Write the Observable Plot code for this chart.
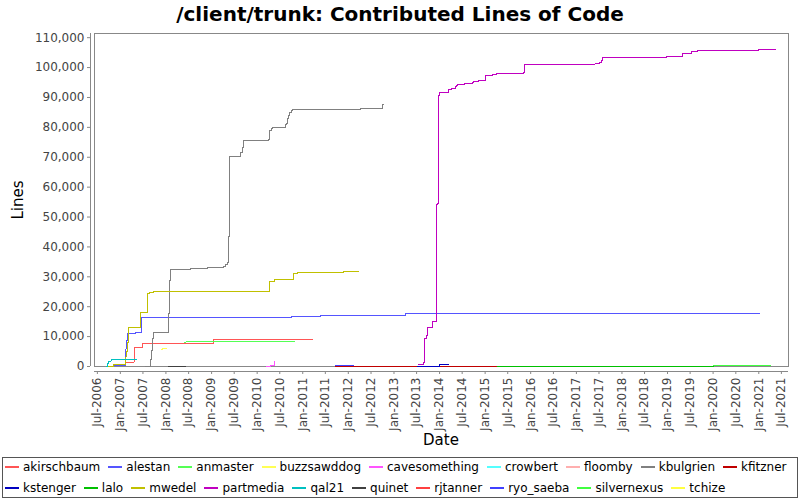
<!DOCTYPE html>
<html>
<head>
<meta charset="utf-8">
<script src="https://cdn.jsdelivr.net/npm/d3@7"></script>
<script src="https://cdn.jsdelivr.net/npm/@observablehq/plot@0.6"></script>
<style>
  body { margin: 0; background: #fff; }
  #wrap { position: relative; width: 800px; height: 500px; font-family: "DejaVu Sans", sans-serif; background: #fff; overflow: hidden; }
  #title { position: absolute; left: 0; top: 2px; width: 800px; text-align: center; font-weight: bold; font-size: 20px; line-height: 24px; color: #000; }
  #chart { position: absolute; left: 0; top: 30px; }
  #ylab { position: absolute; left: 18px; top: 200px; font-size: 15px; color: #000; transform: translate(-50%, -50%) rotate(-90deg); white-space: nowrap; }
  #xlab { position: absolute; left: 441px; top: 440px; font-size: 15px; color: #000; transform: translate(-50%, -50%); white-space: nowrap; }
  #legend { position: absolute; left: 2px; top: 457px; width: 794px; height: 39px; border: 1px solid #555; font-size: 12px; color: #000; }
  .row { position: absolute; left: 2px; height: 18px; line-height: 18px; display: flex; white-space: nowrap; }
  .item { display: flex; align-items: center; margin-right: 8px; }
  .sw { display: inline-block; width: 14px; height: 2px; margin-right: 4px; }
</style>
</head>
<body>
<div id="wrap">
  <div id="title">/client/trunk: Contributed Lines of Code</div>
  <div id="chart"></div>
  <div id="ylab">Lines</div>
  <div id="xlab">Date</div>
  <div id="legend"></div>
</div>
<script>
// ---- Data: cumulative contributed lines per author, [date, lines] at each change ----
const authors = ["akirschbaum","alestan","anmaster","buzzsawddog","cavesomething","crowbert","floomby","kbulgrien","kfitzner",
                 "kstenger","lalo","mwedel","partmedia","qal21","quinet","rjtanner","ryo_saeba","silvernexus","tchize"];
const colors  = ["#FF5555","#5555FF","#55FF55","#FFFF55","#FF55FF","#55FFFF","#FFAFAF","#808080","#C00000",
                 "#0000C0","#00C000","#C0C000","#C000C0","#00C0C0","#404040","#FF4040","#4040FF","#40FF40","#FFFF40"];

const akirschbaum = [["2006-11-09",670],["2007-02-11",1500],["2007-04-23",6460],["2007-06-29",7580],["2009-01-19",8920],["2011-03-18",8920]];
const alestan = [["2006-11-09",300],["2007-02-11",2570],["2007-02-15",5900],["2007-02-20",8700],["2007-02-28",10930],["2007-05-01",11270],
                 ["2007-06-17",16290],["2010-09-30",16720],["2011-05-23",17000],["2013-04-03",17620],["2021-01-01",17690],["2021-01-08",17690]];
const anmaster = [["2008-06-01",8100],["2008-06-10",8350],["2010-10-29",8350]];
const buzzsawddog = [["2007-11-26",5600],["2007-12-03",6100],["2008-01-03",6100]];
const cavesomething = [["2010-03-14",0],["2010-04-17",330],["2010-05-18",1670],["2010-05-20",1670]];
const crowbert = [];
const floomby = [];
const kbulgrien = [["2007-07-21",0],["2007-09-01",2240],["2007-09-09",5350],["2007-09-16",9360],["2007-09-25",11270],
                   ["2008-01-24",17700],["2008-01-30",28760],["2008-02-08",32340],["2008-07-15",32680],["2008-11-27",33210],
                   ["2009-04-04",33540],["2009-04-22",34000],["2009-05-06",34680],["2009-05-18",43480],["2009-05-26",70130],
                   ["2009-08-23",71670],["2009-09-03",73340],["2009-09-11",75250],["2009-09-15",75480],["2010-04-04",75810],
                   ["2010-04-12",78930],["2010-04-23",79500],["2010-05-01",79830],["2010-08-18",80830],["2010-08-23",81200],
                   ["2010-09-03",82840],["2010-09-11",83950],["2010-09-19",85050],["2010-09-30",85620],["2010-10-08",85850],
                   ["2012-04-08",86180],["2012-10-01",87500],["2012-10-08",87500]];
const kfitzner = [["2011-09-20",30],["2015-04-08",30]];
const kstenger = [["2013-07-05",30],["2014-01-03",670],["2014-03-10",670]];
const lalo = [["2015-04-08",30],["2020-01-01",30]];
const mwedel = [["2006-09-22",0],["2006-11-09",600],["2007-02-11",3100],["2007-02-16",5000],["2007-02-24",8130],["2007-03-07",13140],
                ["2007-06-11",18160],["2007-08-08",24520],["2007-08-24",24850],["2007-09-25",24980],["2010-04-12",28530],
                ["2010-05-22",29000],["2010-10-21",31000],["2010-11-17",31340],["2011-11-25",31670],["2012-03-20",31670]];
const partmedia = [["2013-07-18",670],["2013-08-27",1230],["2013-09-04",9260],["2013-09-15",10370],["2013-09-23",12940],
                   ["2013-11-02",13710],["2013-11-07",15150],["2013-12-07",54180],["2013-12-17",54410],["2013-12-25",90640],
                   ["2014-01-03",91540],["2014-03-16",92540],["2014-04-06",92880],["2014-05-09",93650],["2014-05-14",94000],
                   ["2014-05-22",94310],["2014-07-22",94540],["2014-09-19",95080],["2014-09-27",95320],["2014-11-11",95650],
                   ["2015-01-04",97320],["2015-03-04",97660],["2015-03-31",97880],["2015-11-06",98220],["2015-11-14",100900],
                   ["2017-05-29",101230],["2017-07-06",101670],["2017-07-20",102500],["2017-07-27",103340],["2018-12-24",103680],
                   ["2019-05-03",104790],["2019-07-11",105240],["2019-08-31",105590],["2021-01-01",105920],["2021-05-15",105920]];
const qal21 = [["2006-09-16",0],["2006-09-18",1100],["2006-09-30",1770],["2006-10-19",2240],["2007-05-08",2240]];
const quinet = [["2008-01-24",30],["2008-06-05",30]];
const rjtanner = [];
const ryo_saeba = [["2011-09-20",200],["2012-02-09",200]];
const silvernexus = [["2020-01-01",170],["2021-04-09",170]];
const tchize = [];

const seriesData = {akirschbaum, alestan, anmaster, buzzsawddog, cavesomething, crowbert, floomby, kbulgrien, kfitzner,
                    kstenger, lalo, mwedel, partmedia, qal21, quinet, rjtanner, ryo_saeba, silvernexus, tchize};

const yTicks = [0,10000,20000,30000,40000,50000,60000,70000,80000,90000,100000,110000];
const xDomain = ["2006-06-08","2021-08-27"];
const yDomain = [0, 111400];

// ---- Build ----
const parse = d3.utcParse("%Y-%m-%d");
const rows = authors.flatMap(a => seriesData[a].map(([d, v]) => ({author: a, date: parse(d), lines: v})));
const x0 = parse(xDomain[0]), x1 = parse(xDomain[1]);
const xTicks = d3.utcMonth.every(6).range(parse("2006-07-01"), parse("2021-07-02"));
const axisColor = "#888";

const chart = Plot.plot({
  width: 800,
  height: 425,
  marginLeft: 90,
  marginRight: 12,
  marginTop: 3,
  marginBottom: 84,
  style: {fontFamily: "DejaVu Sans, sans-serif", fontSize: "12px", background: "#fff", color: "#444"},
  x: {type: "utc", domain: [x0, x1], insetLeft: 4},
  y: {domain: yDomain, insetBottom: 5},
  color: {domain: authors, range: colors},
  marks: [
    Plot.frame({stroke: axisColor, insetLeft: 4, insetBottom: 5, shapeRendering: "crispEdges"}),
    Plot.ruleX([x0], {y1: yDomain[0], y2: yDomain[1], dx: -4, stroke: axisColor, shapeRendering: "crispEdges"}),
    Plot.ruleY([0], {x1: x0, x2: x1, dy: 5, stroke: axisColor, shapeRendering: "crispEdges"}),
    Plot.axisY({ticks: yTicks, tickFormat: d3.format(","), tickSize: 3, tickPadding: 3, label: null, stroke: axisColor, fill: "#444"}),
    Plot.axisX({ticks: xTicks, tickFormat: d3.utcFormat("%b-%Y"), tickRotate: -90, tickSize: 3, tickPadding: 3, label: null, stroke: axisColor, fill: "#444"}),
    Plot.line(rows, {x: "date", y: "lines", z: "author", stroke: "author", curve: "step-after", strokeWidth: 1, shapeRendering: "crispEdges"})
  ]
});
document.getElementById("chart").appendChild(chart);

// ---- Legend ----
const legend = document.getElementById("legend");
const rowsSplit = [authors.slice(0, 9), authors.slice(9)];
rowsSplit.forEach((names, i) => {
  const row = document.createElement("div");
  row.className = "row";
  row.style.top = (i === 0 ? 0 : 21) + "px";
  names.forEach(n => {
    const item = document.createElement("span");
    item.className = "item";
    const sw = document.createElement("span");
    sw.className = "sw";
    sw.style.backgroundColor = colors[authors.indexOf(n)];
    item.appendChild(sw);
    item.appendChild(document.createTextNode(n));
    row.appendChild(item);
  });
  legend.appendChild(row);
});
</script>
</body>
</html>
